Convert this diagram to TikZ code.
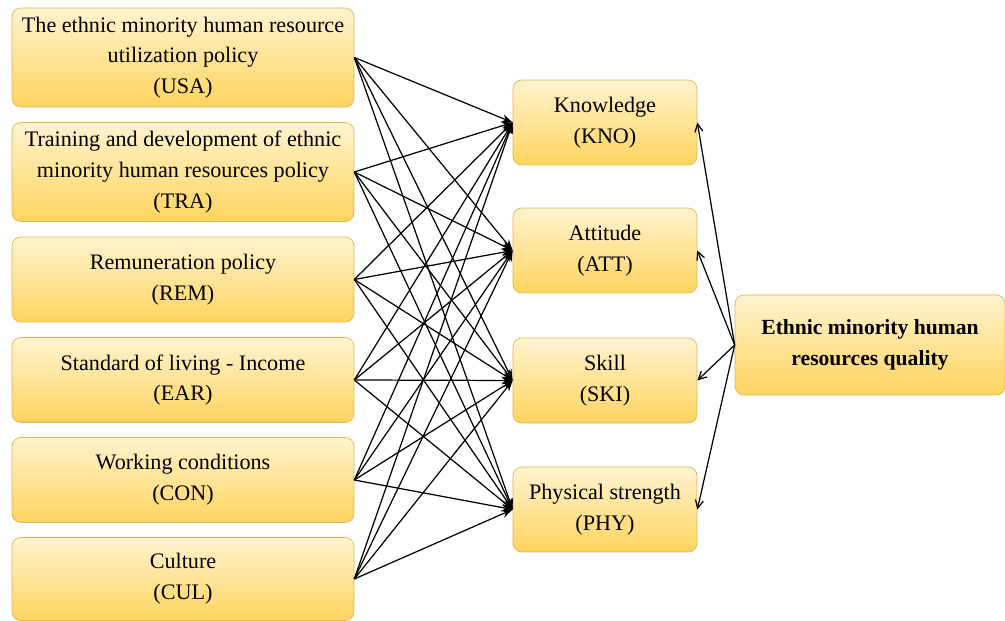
\documentclass[tikz,border=0pt]{standalone}
\usepackage{fontspec}
\setmainfont{Liberation Serif}
\usepackage{xcolor}
\usetikzlibrary{arrows.meta,positioning}

\definecolor{boxtop}{HTML}{FFF4D0}
\definecolor{boxbot}{HTML}{FFD45E}
\definecolor{boxline}{HTML}{D6B656}

\begin{document}
\begin{tikzpicture}[x=0.02cm,y=-0.02cm,
  font=\fontsize{12.6}{17.5}\selectfont,
  box/.style={draw=boxline,rounded corners=5pt,align=center,top color=boxtop,bottom color=boxbot,inner sep=0pt},
  lbox/.style={box,minimum width=6.84cm},
  mbox/.style={box,minimum width=3.68cm,minimum height=1.7cm},
  arr/.style={-{Stealth[length=2.2mm,width=1.6mm]},line width=0.7pt},
  back/.style={-{Straight Barb[length=1.6mm,width=1.6mm]},line width=0.7pt}]
\useasboundingbox (0,0) rectangle (1005,621);
% left: policy factors
\node[lbox,minimum height=1.98cm] (usa) at (183,57.5) {The ethnic minority human resource\\utilization policy\\(USA)};
\node[lbox,minimum height=1.98cm] (tra) at (183,172) {Training and development of ethnic\\minority human resources policy\\(TRA)};
\node[lbox,minimum height=1.7cm] (rem) at (183,279.5) {Remuneration policy\\(REM)};
\node[lbox,minimum height=1.7cm] (ear) at (183,380) {Standard of living - Income\\(EAR)};
\node[lbox,minimum height=1.7cm] (con) at (183,480) {Working conditions\\(CON)};
\node[lbox,minimum height=1.66cm] (cul) at (183,579) {Culture\\(CUL)};
% middle: quality components
\node[mbox] (kno) at (605,122.5) {Knowledge\\(KNO)};
\node[mbox] (att) at (605,250.5) {Attitude\\(ATT)};
\node[mbox] (ski) at (605,380.5) {Skill\\(SKI)};
\node[mbox] (phy) at (605,509.5) {Physical strength\\(PHY)};
% right
\node[box,minimum width=5.4cm,minimum height=2cm,font=\fontsize{12.3}{17.5}\selectfont\bfseries] (emq) at (870,345) {Ethnic minority human\\resources quality};
\foreach \s in {usa,tra,rem,ear,con,cul}
  \foreach \t in {kno,att,ski,phy}
    \draw[arr] (\s.east) -- (\t.west);
\foreach \t in {kno,att,ski,phy}
  \draw[back] (emq.west) -- (\t.east);
\end{tikzpicture}
\end{document}
